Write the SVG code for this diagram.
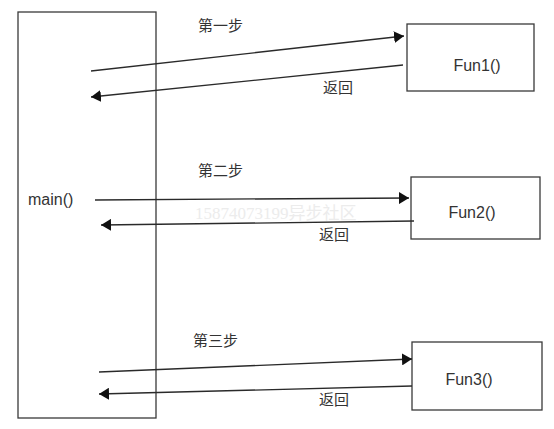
<svg xmlns="http://www.w3.org/2000/svg" width="554" height="429" viewBox="0 0 554 429">
  <style>
    .box { fill: #ffffff; stroke: #3a3a3a; stroke-width: 1.3; }
    .lbl { font-family: "Liberation Sans", "Noto Sans CJK SC", sans-serif; font-size: 16px; fill: #333333; }
    .cjk { font-family: "Noto Sans CJK SC", "Liberation Sans", sans-serif; font-size: 15px; fill: #333333; }
    .wm { font-family: "Liberation Serif", "Noto Sans CJK SC", serif; font-size: 17px; fill: #ececec; }
    .conn { stroke: #2a2a2a; stroke-width: 1.3; fill: none; marker-end: url(#arrow); }
  </style>
  <defs>
    <marker id="arrow" markerUnits="userSpaceOnUse" markerWidth="11" markerHeight="12" refX="10" refY="6" orient="auto">
      <path d="M0,0 L10,6 L0,12 z" fill="#111111"/>
    </marker>
  </defs>
  <rect width="554" height="429" fill="#ffffff"/>
  <text class="wm" x="195" y="219">15874073199异步社区</text>
  <g id="main">
    <rect class="box" x="18" y="12" width="138" height="406"/>
    <text class="lbl" x="28" y="205">main()</text>
  </g>
  <g id="fun1">
    <rect class="box" x="407" y="24" width="127" height="67"/>
    <text class="lbl" x="477" y="71" text-anchor="middle">Fun1()</text>
  </g>
  <g id="fun2">
    <rect class="box" x="411" y="177" width="129" height="62"/>
    <text class="lbl" x="472" y="218" text-anchor="middle">Fun2()</text>
  </g>
  <g id="fun3">
    <rect class="box" x="412" y="342" width="130" height="68"/>
    <text class="lbl" x="469" y="385" text-anchor="middle">Fun3()</text>
  </g>
  <g id="connectors">
    <line class="conn" x1="91" y1="71" x2="404" y2="36"/>
    <line class="conn" x1="403" y1="65" x2="91" y2="97"/>
    <line class="conn" x1="95" y1="200" x2="409" y2="198"/>
    <line class="conn" x1="414" y1="221" x2="101" y2="225"/>
    <line class="conn" x1="99" y1="372" x2="412" y2="359"/>
    <line class="conn" x1="412" y1="386" x2="99" y2="394"/>
  </g>
  <g id="labels">
    <text class="cjk" x="198" y="31">第一步</text>
    <text class="cjk" x="323" y="93">返回</text>
    <text class="cjk" x="198" y="176">第二步</text>
    <text class="cjk" x="319" y="240">返回</text>
    <text class="cjk" x="193" y="346">第三步</text>
    <text class="cjk" x="319" y="405">返回</text>
  </g>
</svg>
